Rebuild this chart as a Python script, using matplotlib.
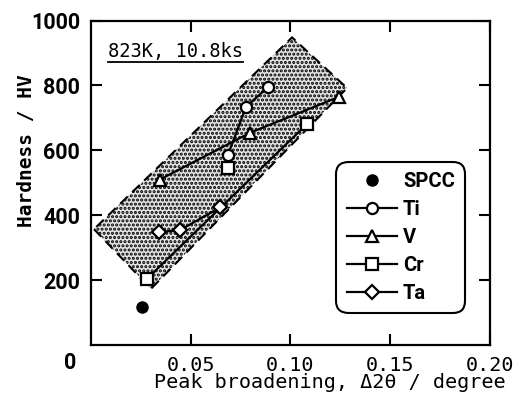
import matplotlib
matplotlib.use('Agg')
import matplotlib.pyplot as plt
from matplotlib.patches import Polygon
from matplotlib.lines import Line2D

# values
spcc_x = [0.0256]
spcc_y = [118]
ti_x = [0.0688, 0.0778, 0.0889]
ti_y = [587, 734, 795]
v_x = [0.0346, 0.0798, 0.1245]
v_y = [510, 654, 765]
cr_x = [0.0281, 0.0688, 0.1084]
cr_y = [204, 547, 681]
ta_x = [0.0341, 0.0447, 0.0648]
ta_y = [348, 354, 424]

# shaded band corners (data units)
band_x = [0.0015, 0.0301, 0.1285, 0.1009]
band_y = [357, 173, 792, 948]

x_ticks = [0.05, 0.10, 0.15, 0.20]
x_labels = ['0.05', '0.10', '0.15', '0.20']
y_ticks = [200, 400, 600, 800, 1000]

narrow = 'Roboto'
mono = 'DejaVu Sans Mono'
plt.rcParams['hatch.linewidth'] = 1.5

fig = plt.figure(figsize=(5.23, 4.03), dpi=100)
ax = fig.add_axes([0.174, 0.144, 0.762, 0.805])

band = Polygon(list(zip(band_x, band_y)), closed=True, facecolor='#e4e4e4',
               edgecolor='black', hatch='....', linestyle=(0, (5, 3)),
               linewidth=1.5, zorder=1)
ax.add_patch(band)

lw = 1.6
mk = dict(markerfacecolor='white', markeredgecolor='black', markeredgewidth=1.6,
          color='black', linewidth=lw, zorder=3)
ax.plot(ti_x, ti_y, marker='o', markersize=8, **mk)
ax.plot(v_x, v_y, marker='^', markersize=9, **mk)
ax.plot([cr_x[0], cr_x[-1]], [cr_y[0], cr_y[-1]], color='black', linewidth=lw, zorder=2)
ax.plot(cr_x, cr_y, marker='s', markersize=8, linestyle='none', **mk)
ax.plot(ta_x, ta_y, marker='D', markersize=7, **mk)
ax.plot(spcc_x, spcc_y, marker='o', markersize=8, linestyle='none', color='black', zorder=3)

ax.set_xlim(0, 0.2)
ax.set_ylim(0, 1000)
ax.set_xticks(x_ticks)
ax.set_xticklabels(x_labels, fontfamily=mono, fontsize=14.5)
ax.set_yticks(y_ticks)
ax.set_yticklabels([str(v) for v in y_ticks], fontfamily=narrow, fontweight='bold', fontsize=15.5)
ax.tick_params(direction='in', length=8, width=1.5, top=True, right=True, pad=8)
for s in ax.spines.values():
    s.set_linewidth(1.6)

ax.text(-0.053, -0.055, '0', transform=ax.transAxes, ha='center', va='center',
        fontfamily=narrow, fontweight='bold', fontsize=15.5)

ax.set_xlabel('Peak broadening, Δ2θ / degree', fontfamily=mono, fontsize=14.5)
ax.xaxis.set_label_coords(0.60, -0.117)
ax.xaxis.label.set_va('center')
ax.set_ylabel('Hardness / HV', fontfamily=mono, fontweight='bold', fontsize=14)
ax.yaxis.set_label_coords(-0.161, 0.60)
ax.yaxis.label.set_va('center')

note = ax.text(0.043, 0.905, '823K, 10.8ks', transform=ax.transAxes, ha='left',
               va='center', fontfamily=mono, fontsize=13.5)

hk = dict(color='black', markerfacecolor='white', markeredgecolor='black',
          markeredgewidth=1.6, linewidth=lw)
handles = [
    Line2D([], [], marker='o', markersize=8, linestyle='none', color='black'),
    Line2D([], [], marker='o', markersize=8, **hk),
    Line2D([], [], marker='^', markersize=9, **hk),
    Line2D([], [], marker='s', markersize=8, **hk),
    Line2D([], [], marker='D', markersize=7, **hk),
]
leg = ax.legend(handles, ['SPCC', 'Ti', 'V', 'Cr', 'Ta'], loc='upper left',
                bbox_to_anchor=(0.616, 0.565), borderaxespad=0, fancybox=True,
                framealpha=1, edgecolor='black', handlelength=2.5,
                handletextpad=0.3, labelspacing=0.45, borderpad=0.5,
                prop={'family': narrow, 'weight': 'bold', 'size': 14.5})
leg.get_frame().set_linewidth(1.5)
leg.get_frame().set_boxstyle('round,pad=0,rounding_size=0.6')

# underline the condition note
fig.canvas.draw()
bb = note.get_window_extent().transformed(ax.transAxes.inverted())
ax.plot([bb.x0, bb.x1], [bb.y0 - 0.005, bb.y0 - 0.005], transform=ax.transAxes,
        color='black', linewidth=1.3, clip_on=False)

fig.savefig('out.png', dpi=100)
